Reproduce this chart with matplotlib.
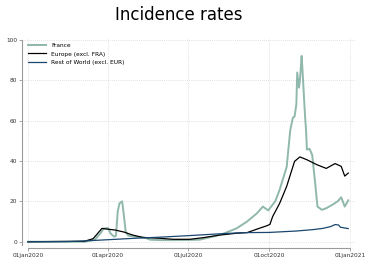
import matplotlib
matplotlib.use('Agg')
from matplotlib import pyplot as plt
import matplotlib.dates as mdates
import pandas as pd

# France
fra_dates = ['2020-01-01', '2020-03-05', '2020-03-17', '2020-03-23', '2020-03-27',
             '2020-04-01', '2020-04-04', '2020-04-08', '2020-04-10', '2020-04-12',
             '2020-04-14', '2020-04-17', '2020-04-19', '2020-04-21', '2020-04-24',
             '2020-05-02', '2020-05-13', '2020-05-19', '2020-05-30', '2020-06-22',
             '2020-07-14', '2020-07-29', '2020-08-09', '2020-08-25', '2020-09-06',
             '2020-09-17', '2020-09-24', '2020-09-30', '2020-10-08', '2020-10-13',
             '2020-10-21', '2020-10-25', '2020-10-28', '2020-10-30', '2020-11-01',
             '2020-11-02', '2020-11-04', '2020-11-05', '2020-11-07', '2020-11-08',
             '2020-11-10', '2020-11-11', '2020-11-12', '2020-11-13', '2020-11-16',
             '2020-11-19', '2020-11-22', '2020-11-25', '2020-11-30', '2020-12-05',
             '2020-12-12', '2020-12-18', '2020-12-22', '2020-12-26', '2020-12-30']
fra_vals = [0, 0, 1.0, 4, 6.5,
            6.8, 4, 2.5, 3, 15,
            19, 20, 13, 5, 3,
            2.5, 2, 1, 0.8, 0.8,
            1.0, 2.5, 3.8, 6.6, 10,
            14, 17.4, 15.5, 20, 25.7,
            37, 55, 61.4, 62, 68,
            83.8, 76.3, 79.6, 92, 85,
            69, 61.4, 55.6, 45.6, 46,
            43, 30.7, 17.4, 15.8, 16.6,
            18.3, 20, 22, 17.4, 20.5]

# Europe excluding France
eur_dates = ['2020-01-01', '2020-03-05', '2020-03-15', '2020-03-19', '2020-03-25',
             '2020-04-01', '2020-04-09', '2020-04-19', '2020-04-29', '2020-05-11',
             '2020-05-30', '2020-06-14', '2020-07-03', '2020-07-18', '2020-08-06',
             '2020-08-25', '2020-09-06', '2020-09-17', '2020-09-29', '2020-10-02',
             '2020-10-05', '2020-10-13', '2020-10-21', '2020-10-27', '2020-10-30',
             '2020-11-05', '2020-11-13', '2020-11-24', '2020-12-05', '2020-12-15',
             '2020-12-22', '2020-12-26', '2020-12-30']
eur_vals = [0, 0.2, 1.5, 3.5, 6.6,
            6.2, 5.8, 4.8, 3.3, 2.1,
            1.7, 1.2, 1.2, 2.0, 3.3,
            4.2, 4.5, 6.2, 8.0, 8.6,
            12.4, 19, 27.4, 35.7, 39.8,
            42, 40.6, 38.2, 36.3, 38.7,
            37.3, 32.5, 34]

# Rest of world excluding Europe
row_dates = ['2020-01-01', '2020-02-15', '2020-03-01', '2020-04-01', '2020-05-01',
             '2020-06-01', '2020-07-01', '2020-08-01', '2020-09-01', '2020-10-01',
             '2020-11-01', '2020-11-20', '2020-12-01', '2020-12-10', '2020-12-15',
             '2020-12-19', '2020-12-21', '2020-12-30']
row_vals = [0, 0.1, 0.3, 1.0, 1.7,
            2.3, 3.0, 3.8, 4.5, 4.6,
            5.3, 6.0, 6.6, 7.5, 8.5,
            8.3, 7.2, 6.5]

xtick_dates = ['2020-01-01', '2020-04-01', '2020-07-01', '2020-10-01', '2021-01-01']
xtick_labels = ['01jan2020', '01apr2020', '01jul2020', '01oct2020', '01jan2021']
yticks = [0, 20, 40, 60, 80, 100]

fig = plt.figure(figsize=(3.65, 2.58), dpi=100)
ax = fig.add_axes([0.0603, 0.0388, 0.9123, 0.811])

ax.plot(pd.to_datetime(fra_dates), fra_vals, color='#90b8ac', lw=1.4, label='France')
ax.plot(pd.to_datetime(eur_dates), eur_vals, color='black', lw=0.9, label='Europe (excl. FRA)')
ax.plot(pd.to_datetime(row_dates), row_vals, color='#1a476f', lw=0.9, label='Rest of World (excl. EUR)')

xt = pd.to_datetime(xtick_dates)
ax.set_xlim(pd.Timestamp('2019-12-25 05:00'), pd.Timestamp('2021-01-06 16:00'))
ax.set_ylim(-3.1, 100.5)
ax.set_xticks(xt)
ax.set_xticklabels(xtick_labels)
ax.set_yticks(yticks)

for s in ['top', 'right']:
    ax.spines[s].set_visible(False)
ax.spines['bottom'].set_bounds(mdates.date2num(xt[0]), mdates.date2num(xt[-1]))
ax.spines['left'].set_bounds(-1.6, 100)
for s in ['bottom', 'left']:
    ax.spines[s].set_color('#9a9a9a')
    ax.spines[s].set_linewidth(0.8)

ax.tick_params(axis='both', length=2, width=0.6, color='#9a9a9a',
               labelsize=4.2, labelcolor='#333333', pad=1.5)
ax.grid(True, linestyle=(0, (1, 1.5)), color='#d8d8d8', lw=0.6)
ax.set_axisbelow(True)

ax.legend(loc='upper left', bbox_to_anchor=(0.005, 1.0), frameon=False,
          fontsize=4.2, handlelength=3.2, handletextpad=0.8, labelspacing=0.6,
          borderaxespad=0.3)

fig.text(0.49, 0.94, 'Incidence rates', ha='center', va='center', fontsize=12)

fig.savefig('out.png', dpi=100)
